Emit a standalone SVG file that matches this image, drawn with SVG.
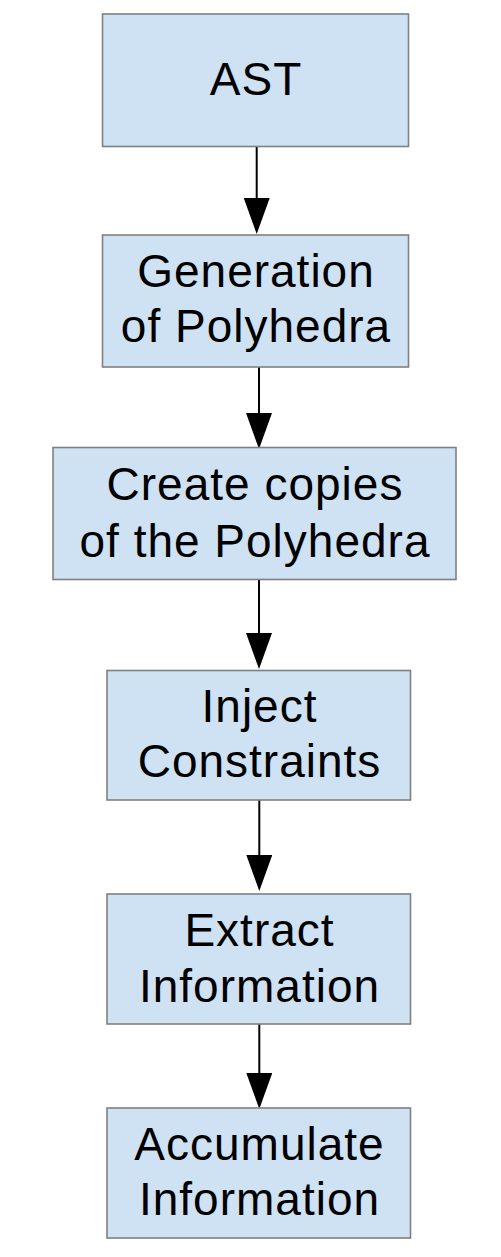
<svg xmlns="http://www.w3.org/2000/svg" width="501" height="1257" viewBox="0 0 501 1257">
<defs>
<style>
.box{fill:#cfe2f3;stroke:#808080;stroke-width:1.6}
.t{font-family:"Liberation Sans",Arial,sans-serif;font-size:46px;letter-spacing:1px;fill:#000;text-anchor:middle}
.c{stroke:#000;stroke-width:2;fill:none;marker-end:url(#ah)}
</style>
<marker id="ah" viewBox="0 0 36 26" refX="32" refY="13" markerWidth="36" markerHeight="26" markerUnits="userSpaceOnUse" orient="auto">
<path d="M0,0 L36,13 L0,26 z" fill="#000"/>
</marker>
</defs>
<rect width="501" height="1257" fill="#fff"/>
<g id="connectors">
<line class="c" x1="256.7" y1="147" x2="256.7" y2="230"/>
<line class="c" x1="259" y1="367" x2="259" y2="445"/>
<line class="c" x1="259" y1="580" x2="259" y2="665"/>
<line class="c" x1="259.3" y1="800" x2="259.3" y2="887"/>
<line class="c" x1="259.3" y1="1024" x2="259.3" y2="1105"/>
</g>
<g id="ast">
<rect class="box" x="102.5" y="14" width="306" height="132.5"/>
<text class="t" x="256" y="95">AST</text>
</g>
<g id="generation">
<rect class="box" x="102.5" y="235" width="306" height="132"/>
<text class="t" x="256" y="287">Generation</text>
<text class="t" x="256" y="342">of Polyhedra</text>
</g>
<g id="copies">
<rect class="box" x="53" y="447.5" width="403" height="132"/>
<text class="t" x="255" y="500">Create copies</text>
<text class="t" x="255" y="556.5">of the Polyhedra</text>
</g>
<g id="inject">
<rect class="box" x="107" y="670.5" width="303.5" height="129.5"/>
<text class="t" x="259.5" y="721.5">Inject</text>
<text class="t" x="259.5" y="776.5">Constraints</text>
</g>
<g id="extract">
<rect class="box" x="107" y="894" width="303.5" height="130"/>
<text class="t" x="259.5" y="945.5">Extract</text>
<text class="t" x="259.5" y="1001.5">Information</text>
</g>
<g id="accumulate">
<rect class="box" x="107" y="1108" width="303.5" height="130"/>
<text class="t" x="259.5" y="1160">Accumulate</text>
<text class="t" x="259.5" y="1215">Information</text>
</g>
</svg>
